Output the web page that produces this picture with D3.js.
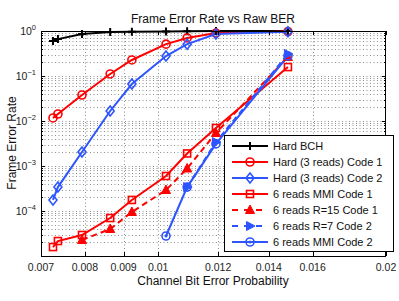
<!DOCTYPE html>
<html><head><meta charset="utf-8">
<script src="https://cdn.jsdelivr.net/npm/d3@7"></script>
<style>body{margin:0;background:#fff}svg{display:block;font-family:"Liberation Sans",Arial,sans-serif}</style>
</head><body><svg id="c" width="399" height="301"></svg>
<script>
const xTicks = [0.007, 0.008, 0.009, 0.01, 0.012, 0.014, 0.016, 0.02];
const xTickLabels = ["0.007","0.008","0.009","0.01","0.012","0.014","0.016","0.02"];
const yTicks = [1, 0.1, 0.01, 0.001, 0.0001];
const yTickExps = ["0","\u22121","\u22122","\u22123","\u22124"];

const hardBchX = [0.00726, 0.00737, 0.00793, 0.00864, 0.00923, 0.01024, 0.01092, 0.01192, 0.01484];
const hardBchY = [0.60, 0.66, 0.86, 0.95, 0.96, 0.97, 0.99, 1.0, 1.0];

const hard3c1X = [0.00726, 0.00737, 0.00793, 0.00864, 0.00923, 0.01024, 0.01092, 0.01192, 0.01484];
const hard3c1Y = [0.0117, 0.0143, 0.0378, 0.111, 0.227, 0.51, 0.70, 0.90, 0.97];

const hard3c2X = [0.00726, 0.00737, 0.00793, 0.00864, 0.00923, 0.01024, 0.01092, 0.01192, 0.01484];
const hard3c2Y = [0.000176, 0.00034, 0.00205, 0.0167, 0.0664, 0.278, 0.51, 0.86, 0.965];

const mmi1X = [0.00726, 0.00737, 0.00793, 0.00864, 0.00923, 0.01024, 0.01092, 0.01192, 0.01484];
const mmi1Y = [0.0000158, 0.0000215, 0.0000293, 0.0000699, 0.000176, 0.0006, 0.0019, 0.007, 0.158];

const r15X = [0.00793, 0.00864, 0.00923, 0.01024, 0.01092, 0.01192, 0.01484];
const r15Y = [0.0000227, 0.0000398, 0.000095, 0.000293, 0.00088, 0.0054, 0.264];

const r7X = [0.01092, 0.01192, 0.01484];
const r7Y = [0.00034, 0.0034, 0.308];

const mmi2X = [0.01024, 0.01092, 0.01192, 0.01484];
const mmi2Y = [0.0000278, 0.00034, 0.0031, 0.278];

const seriesNames = ["Hard BCH","Hard (3 reads) Code 1","Hard (3 reads) Code 2","6 reads MMI Code 1","6 reads R=15 Code 1","6 reads R=7 Code 2","6 reads MMI Code 2"];

const RED = "#ff0000", BLUE = "#2d55ff", BLACK = "#000000";
const series = [
  {name: seriesNames[0], xs: hardBchX, ys: hardBchY, color: BLACK, dash: null, marker: "plus"},
  {name: seriesNames[1], xs: hard3c1X, ys: hard3c1Y, color: RED, dash: null, marker: "circle"},
  {name: seriesNames[2], xs: hard3c2X, ys: hard3c2Y, color: BLUE, dash: null, marker: "diamond"},
  {name: seriesNames[3], xs: mmi1X, ys: mmi1Y, color: RED, dash: null, marker: "square"},
  {name: seriesNames[4], xs: r15X, ys: r15Y, color: RED, dash: "6,4", marker: "triUp"},
  {name: seriesNames[5], xs: r7X, ys: r7Y, color: BLUE, dash: "6,4", marker: "triRight"},
  {name: seriesNames[6], xs: mmi2X, ys: mmi2Y, color: BLUE, dash: null, marker: "circleDot"}
];

const L = 41, R = 386, T = 31, B = 256;
const x = d3.scaleLog().domain([0.007, 0.02]).range([L, R]);
const y = d3.scaleLog().domain([1e-5, 1]).range([B, T]);

const svg = d3.select("#c");

// grid
const g = svg.append("g");
const yGrid = [];
for (let e = -5; e <= 0; e++) for (let m = 1; m <= 9; m++) { const v = m * Math.pow(10, e); if (v > 1e-5 && v < 1) yGrid.push(v); }
g.selectAll("line.yg").data(yGrid).enter().append("line")
  .attr("x1", L).attr("x2", R).attr("y1", d => Math.round(y(d)) + 0.5).attr("y2", d => Math.round(y(d)) + 0.5)
  .attr("stroke", "#444").attr("stroke-width", 0.6).attr("stroke-dasharray", "1,2.5");
g.selectAll("line.xg").data(xTicks.slice(1, -1)).enter().append("line")
  .attr("y1", T).attr("y2", B).attr("x1", d => Math.round(x(d)) + 0.5).attr("x2", d => Math.round(x(d)) + 0.5)
  .attr("stroke", "#444").attr("stroke-width", 0.6).attr("stroke-dasharray", "1,2.5");

// lines
const line = d3.line().x(d => x(d[0])).y(d => y(d[1]));
series.forEach(s => {
  const pts = s.xs.map((v, i) => [v, s.ys[i]]);
  svg.append("path").attr("d", line(pts)).attr("fill", "none").attr("stroke", s.color)
    .attr("stroke-width", 2).attr("stroke-dasharray", s.dash);
});

function drawMarker(sel, type, cx, cy, color) {
  const gg = sel.append("g").attr("transform", `translate(${cx},${cy})`);
  const sw = 1.6;
  if (type === "plus") {
    gg.append("path").attr("d", "M-4,0H4M0,-4V4").attr("stroke", color).attr("stroke-width", 2);
  } else if (type === "circle") {
    gg.append("circle").attr("r", 4).attr("fill", "none").attr("stroke", color).attr("stroke-width", sw);
  } else if (type === "circleDot") {
    gg.append("circle").attr("r", 4).attr("fill", "none").attr("stroke", color).attr("stroke-width", sw);
    gg.append("circle").attr("r", 1.5).attr("fill", color);
  } else if (type === "diamond") {
    gg.append("path").attr("d", "M0,-5L4,0L0,5L-4,0Z").attr("fill", "none").attr("stroke", color).attr("stroke-width", sw);
  } else if (type === "square") {
    gg.append("rect").attr("x", -3.5).attr("y", -3.5).attr("width", 7).attr("height", 7).attr("fill", "none").attr("stroke", color).attr("stroke-width", sw);
  } else if (type === "triUp") {
    gg.append("path").attr("d", "M0,-5L4.5,3.5L-4.5,3.5Z").attr("fill", color).attr("stroke", color).attr("stroke-width", 1);
  } else if (type === "triRight") {
    gg.append("path").attr("d", "M5,0L-3.5,-4.5L-3.5,4.5Z").attr("fill", color).attr("stroke", color).attr("stroke-width", 1);
  }
}
series.forEach(s => {
  s.xs.forEach((v, i) => drawMarker(svg, s.marker, x(v), y(s.ys[i]), s.color));
});

// axes box
svg.append("rect").attr("x", L + 0.5).attr("y", T + 0.5).attr("width", R - L - 1).attr("height", B - T).attr("fill", "none").attr("stroke", "#000").attr("stroke-width", 1);

// ticks
const tk = svg.append("g").attr("stroke", "#000").attr("stroke-width", 1);
xTicks.forEach(v => {
  const px = Math.round(x(v)) + 0.5;
  tk.append("line").attr("x1", px).attr("x2", px).attr("y1", B).attr("y2", B - 4);
  tk.append("line").attr("x1", px).attr("x2", px).attr("y1", T).attr("y2", T + 4);
});
yGrid.concat(yTicks).forEach(v => {
  const py = Math.round(y(v)) + 0.5;
  const len = yTicks.includes(v) ? 4 : 2;
  tk.append("line").attr("x1", L).attr("x2", L + len).attr("y1", py).attr("y2", py);
  tk.append("line").attr("x1", R).attr("x2", R - len).attr("y1", py).attr("y2", py);
});

// tick labels
svg.selectAll("text.xt").data(xTicks).enter().append("text")
  .attr("x", d => x(d)).attr("y", 271).attr("text-anchor", "middle").attr("font-size", 10.5).attr("fill", "#222")
  .text((d, i) => xTickLabels[i]);
yTicks.forEach((v, i) => {
  const t = svg.append("text").attr("x", 36).attr("y", y(v) + 4).attr("text-anchor", "end").attr("font-size", 10.5).attr("fill", "#222");
  t.append("tspan").text("10");
  t.append("tspan").attr("dy", -5).attr("font-size", 7.5).text(yTickExps[i]);
});

// title and labels
svg.append("text").attr("x", 213).attr("y", 23).attr("text-anchor", "middle").attr("font-size", 12).attr("fill", "#111").text("Frame Error Rate vs Raw BER");
svg.append("text").attr("x", 213).attr("y", 285).attr("text-anchor", "middle").attr("font-size", 12).attr("fill", "#111").text("Channel Bit Error Probability");
svg.append("text").attr("transform", "translate(16,143) rotate(-90)").attr("text-anchor", "middle").attr("font-size", 12).attr("fill", "#111").text("Frame Error Rate");

// legend
const lg = svg.append("g");
lg.append("rect").attr("x", 224.5).attr("y", 135.5).attr("width", 169).attr("height", 116).attr("fill", "#fff").attr("stroke", "#000").attr("stroke-width", 1);
series.forEach((s, i) => {
  const ly = 146 + i * 16;
  lg.append("line").attr("x1", 232).attr("x2", 268).attr("y1", ly).attr("y2", ly).attr("stroke", s.color).attr("stroke-width", 2).attr("stroke-dasharray", s.dash ? "6,6" : null);
  drawMarker(lg, s.marker, 250, ly, s.color);
  lg.append("text").attr("x", 273).attr("y", ly + 4).attr("font-size", 11).attr("fill", "#111").text(s.name);
});
</script></body></html>
